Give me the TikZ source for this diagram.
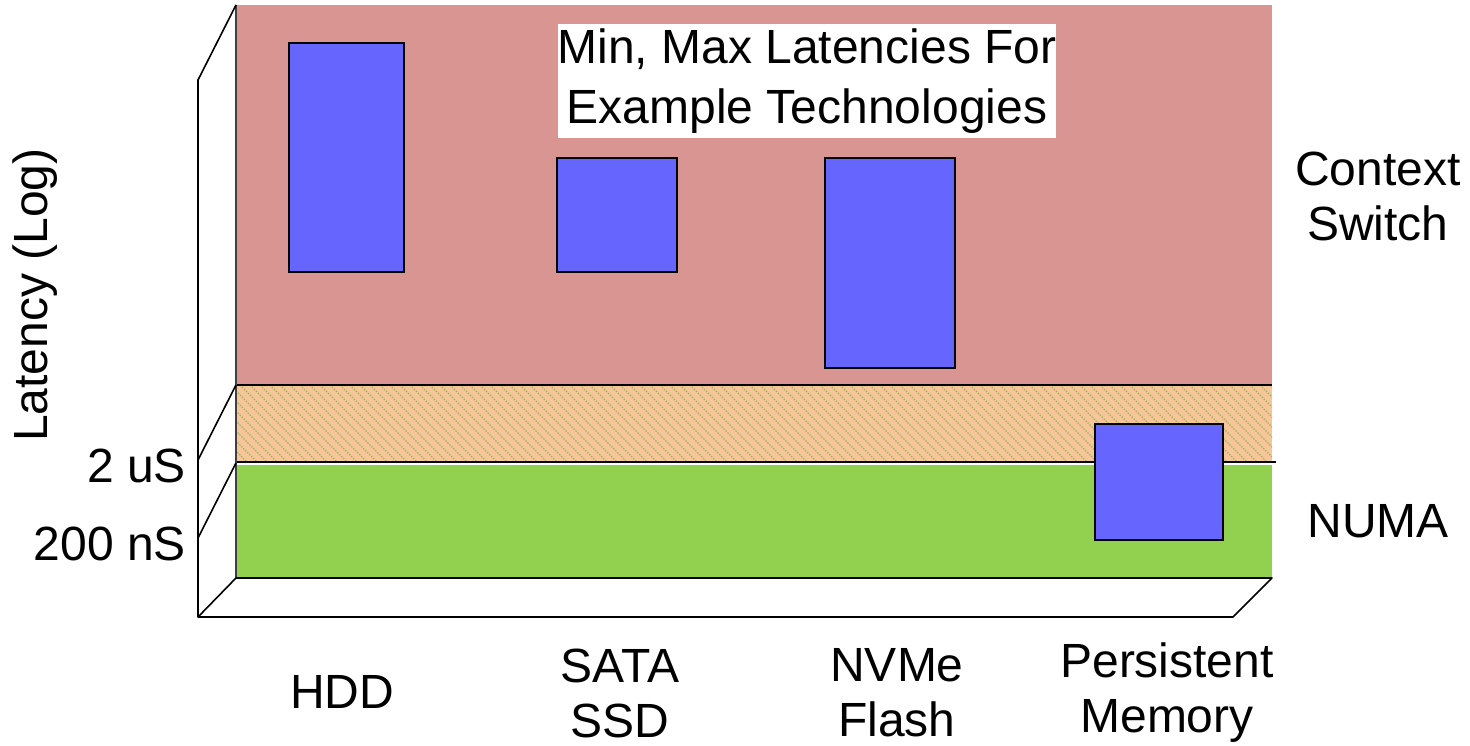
\documentclass[tikz,border=0pt]{standalone}
\usepackage{fontspec}
\setmainfont{Liberation Sans}
\definecolor{wallpink}{RGB}{217,149,145}
\definecolor{barblue}{RGB}{102,102,255}
\definecolor{numagreen}{RGB}{146,208,80}
\definecolor{peach}{RGB}{248,196,154}
\definecolor{hatchgreen}{RGB}{140,190,80}
\begin{document}
\begin{tikzpicture}[x=1pt,y=-1pt,
  bar/.style={draw=black,line width=2pt,fill=barblue,inner sep=0pt,outer sep=0pt},
  lbl/.style={font=\fontsize{48}{55}\selectfont,align=center,inner sep=0pt},
  edge/.style={draw=black,line width=1.6pt}]
\useasboundingbox (0,0) rectangle (1470,746);
% back wall bands
\fill[wallpink] (236,5) rectangle (1272,385);
\fill[peach] (236,385) rectangle (1272,462);
\begin{scope}
\clip (236,385) rectangle (1272,462);
\foreach \x in {150,160,...,1280}
  \draw[hatchgreen,line width=1.3pt,dash pattern=on 1.4pt off 1.4pt] (\x,385) -- (\x+77,462);
\end{scope}
\fill[numagreen] (236,465) rectangle (1272,578);
\draw[edge] (236,385) -- (1272,385);
\draw[edge] (236,462) -- (1276,462);
\draw[draw=black!75,line width=1.6pt] (236,5) -- (236,578);
% floor
\draw[edge,fill=white,line join=round] (236,578) -- (1272,578) -- (1233,617) -- (198,617) -- cycle;
% side wall
\draw[edge] (236,5) -- (198,80) -- (198,617);
\draw[edge] (236,385) -- (198,460);
\draw[edge] (236,463) -- (198,538);
% title
\node[fill=white,lbl,font=\fontsize{48}{60}\selectfont,minimum width=498pt,minimum height=114pt] (title) at (807,81) {Min, Max Latencies For\\Example Technologies};
% bars
\node[bar,minimum width=115pt,minimum height=229pt] (hdd) at (346.5,157.5) {};
\node[bar,minimum width=120pt,minimum height=114pt] (sata) at (617,215) {};
\node[bar,minimum width=130pt,minimum height=210pt] (nvme) at (890,263) {};
\node[bar,minimum width=128pt,minimum height=116pt] (pm) at (1159,482) {};
% labels
\node[lbl] (ctx) at (1378,196) {Context\\Switch};
\node[lbl] (numa) at (1378,521) {NUMA};
\node[lbl,rotate=90] (ylab) at (35,295) {Latency (Log)};
\node[lbl,anchor=east] (t2us) at (186,466) {2 uS};
\node[lbl,anchor=east] (t200) at (186,544) {200 nS};
\node[lbl] (lhdd) at (342,692) {HDD};
\node[lbl] (lsata) at (620,693) {SATA\\SSD};
\node[lbl] (lnvme) at (897,693) {NVMe\\Flash};
\node[lbl] (lpm) at (1167,693) {Persistent\\Memory};
\end{tikzpicture}
\end{document}
